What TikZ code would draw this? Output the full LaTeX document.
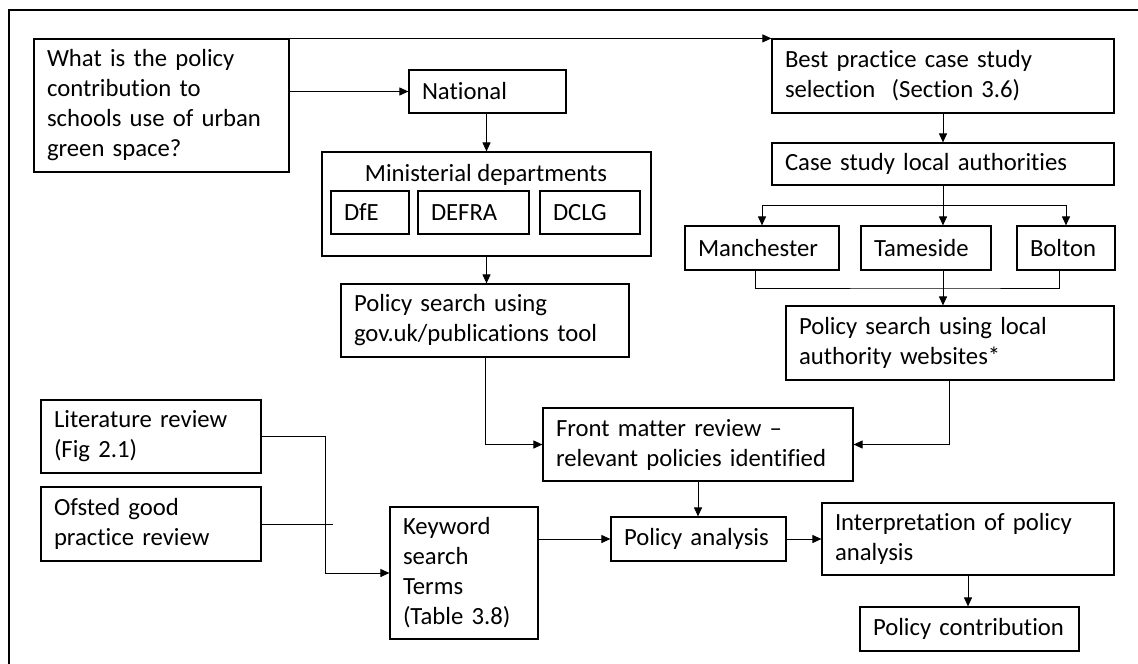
\documentclass[tikz,border=0pt]{standalone}
\usepackage{fontspec}
\setmainfont{Carlito}[Ligatures={NoCommon}]
\usetikzlibrary{arrows.meta,calc}
\tikzset{
  txt/.style={font=\fontsize{24.7}{30}\selectfont},
  box/.style={draw, line width=1.2pt, align=left, inner xsep=13pt, inner ysep=0pt, txt},
  bx/.style n args={3}{box, text width=#1pt, minimum height=#2pt, at={#3}},
  link/.style={line width=1pt},
  arr/.style={link, -{Triangle[length=9pt,width=8pt]}}
}
\begin{document}
\begin{tikzpicture}[x=1pt,y=-1pt]
\useasboundingbox (0,0) rectangle (1138,664);
% outer frame, running off the page on the right and bottom
\draw[line width=1.3pt] (9,664) -- (9,10) -- (1138,10);

% national branch
\node[bx={229}{133}{(161.5,105.5)}] (q) {What is the policy\\contribution to\\schools use of urban\\green space?};
\node[bx={131}{43}{(487.5,91.5)}] (nat) {National};
\node[draw, line width=1.2pt, minimum width=329pt, minimum height=104pt] at (486.5,204) (min) {};
\node[txt, anchor=base] at (486,181) (mintitle) {Ministerial departments};
\node[bx={52}{43}{(370,212.5)}] (dfe) {DfE};
\node[bx={85}{43}{(473.5,212.5)}] (defra) {DEFRA};
\node[bx={74}{43}{(590,212.5)}] (dclg) {DCLG};
\node[bx={262}{73}{(485,320.5)}] (gov) {Policy search using\\gov.uk/publications tool};

% local branch
\node[bx={316}{74}{(943,76)}] (best) {Best practice case study\\selection\ \ (Section 3.6)};
\node[bx={316}{42}{(943,164)}] (case) {Case study local authorities};
\node[bx={128}{44}{(762,248)}] (man) {Manchester};
\node[bx={104}{44}{(926,248)}] (tam) {Tameside};
\node[bx={72}{44}{(1066,248)}] (bol) {Bolton};
\node[bx={302}{74}{(950,343)}] (local) {Policy search using local\\authority websites*};

% review and analysis
\node[bx={284}{73}{(698,444.5)}] (front) {Front matter review --\\relevant policies identified};
\node[bx={194}{73}{(151,436.5)}] (lit) {Literature review\\(Fig 2.1)};
\node[bx={194}{74}{(151,524)}] (ofs) {Ofsted good\\practice review};
\node[bx={122}{132}{(464,573)}] (key) {Keyword\\search\\Terms\\(Table 3.8)};
\node[bx={149}{44}{(698.5,539)}] (ana) {Policy analysis};
\node[bx={266}{72}{(968,539)}] (interp) {Interpretation of policy\\analysis};
\node[bx={193}{44}{(969.5,629)}] (contrib) {Policy contribution};

% helper points
\coordinate (split) at (943,205);
\coordinate (join) at (943,288);
\coordinate (vline) at (325,0);
\coordinate (ofsend) at (333,524);

% connectors
\draw[arr] (q.north east) -- (best.north west);
\draw[arr] (q.east |- nat.west) -- (nat.west);
\draw[arr] (nat.south -| min.north) -- (min.north);
\draw[arr] (min.south) -- (min.south |- gov.north);
\draw[arr] (gov.south) |- (front.west);
\draw[arr] (best.south) -- (case.north);
\draw[link] (case.south) -- (split);
\draw[arr] (split) -| (man.north);
\draw[arr] (split) -| (bol.north);
\draw[arr] (split) -- (split |- tam.north);
\draw[link] ([xshift=-7pt]man.south) |- (join) -| ([xshift=-7pt]bol.south);
\draw[arr] (join |- tam.south) -- (join |- local.north);
\draw[arr] ([xshift=-1pt]local.south) |- (front.east);
\draw[arr] (front.south) -- (front.south |- ana.north);
\draw[arr] (ana.east) -- (interp.west |- ana.east);
\draw[arr] (key.east |- ana.west) -- (ana.west);
\draw[arr] (interp.south) -- (interp.south |- contrib.north);
\draw[arr] (lit.east) -- (lit.east -| vline) |- (key.west);
\draw[link] (ofs.east) -- (ofsend);
\end{tikzpicture}
\end{document}
